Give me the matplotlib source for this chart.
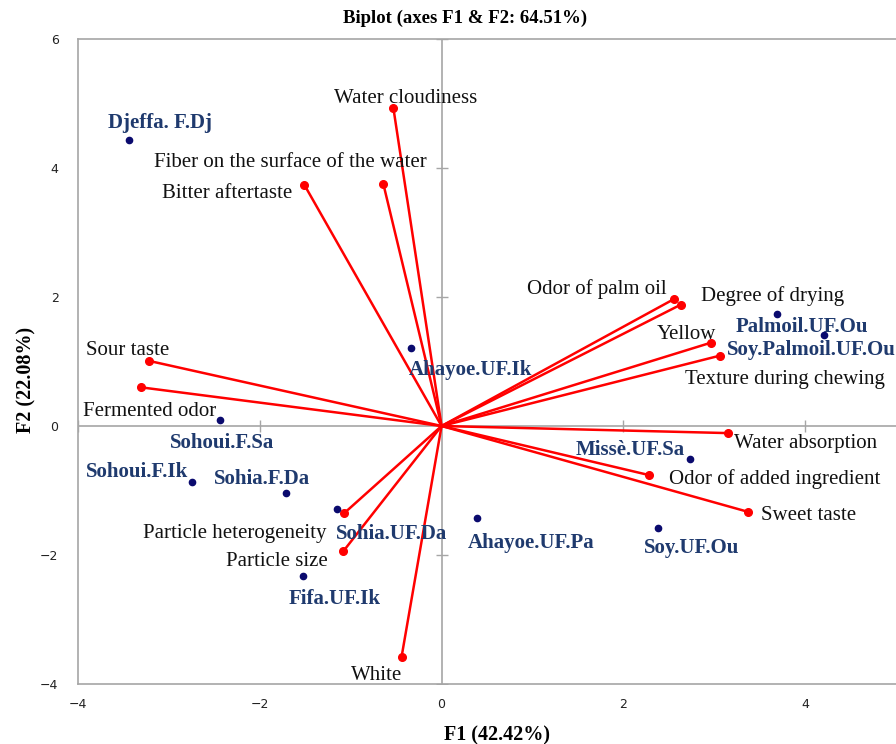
import matplotlib
matplotlib.use("Agg")
import matplotlib.pyplot as plt
import matplotlib.transforms as mtransforms
import numpy as np

# Observations
obs_names = ["Djeffa. F.Dj", "Ahayoe.UF.Ik", "Palmoil.UF.Ou", "Soy.Palmoil.UF.Ou",
             "Sohoui.F.Sa", "Sohoui.F.Ik", "Sohia.F.Da", "Sohia.UF.Da", "Fifa.UF.Ik",
             "Ahayoe.UF.Pa", "Missè.UF.Sa", "Soy.UF.Ou"]
obs_f1 = [-3.44, -0.34, 3.69, 4.21, -2.44, -2.75, -1.71, -1.15, -1.52, 0.39, 2.73, 2.38]
obs_f2 = [4.43, 1.21, 1.74, 1.41, 0.09, -0.87, -1.04, -1.29, -2.33, -1.43, -0.51, -1.58]
obs_lab_x = [-3.10, 0.32, 3.96, 4.07, -2.42, -3.35, -1.98, -0.55, -1.18, 0.98, 2.07, 2.75]
obs_lab_y = [4.73, 0.91, 1.58, 1.21, -0.22, -0.68, -0.78, -1.64, -2.64, -1.77, -0.34, -1.86]

# Variables
var_names = ["Water cloudiness", "Fiber on the surface of the water", "Bitter aftertaste",
             "Odor of palm oil", "Degree of drying", "Yellow", "Texture during chewing",
             "Sour taste", "Fermented odor", "Water absorption", "Odor of added ingredient",
             "Sweet taste", "Particle heterogeneity", "Particle size", "White"]
var_f1 = [-0.53, -0.64, -1.51, 2.56, 2.63, 2.96, 3.06, -3.22, -3.31, 3.15, 2.28, 3.37, -1.07, -1.08, -0.44]
var_f2 = [4.93, 3.75, 3.74, 1.97, 1.88, 1.29, 1.09, 1.01, 0.60, -0.11, -0.76, -1.33, -1.35, -1.94, -3.58]
var_lab_x = [-0.40, -1.66, -2.36, 1.71, 3.64, 2.69, 3.78, -3.45, -3.21, 4.01, 3.67, 4.04, -2.28, -1.81, -0.71]
var_lab_y = [5.12, 4.12, 3.64, 2.16, 2.05, 1.46, 0.76, 1.21, 0.26, -0.23, -0.78, -1.35, -1.63, -2.06, -3.83]

x_ticks = [-4, -2, 0, 2, 4]
y_ticks = [-4, -2, 0, 2, 4, 6]

serif = ["Liberation Serif", "DejaVu Serif"]
navy = "#1F3A6E"
grey = "#A6A6A6"

fig = plt.figure(figsize=(8.96, 7.44), dpi=100)
ax = fig.add_axes([78/896, 1-684/744, 1-78/896, (684-39)/744])
ax.set_xlim(-4, 5)
ax.set_ylim(-4, 6)

ax.axhline(0, color=grey, lw=1.2, zorder=1)
ax.axvline(0, color=grey, lw=1.2, zorder=1)
# small cross ticks on zero lines
ax.plot([t for t in x_ticks if t != 0], [0]*4, ls="none", marker="|", ms=8, color=grey, mew=1.0, zorder=1)
ax.plot([0]*5, [t for t in y_ticks if t != 0], ls="none", marker="_", ms=8, color=grey, mew=1.0, zorder=1)

for x, y in zip(var_f1, var_f2):
    ax.plot([0, x], [0, y], color="#FF0000", lw=1.8, zorder=2)
ax.plot(var_f1, var_f2, ls="none", marker="o", ms=5.5, color="#FF0000", zorder=3)
ax.plot(obs_f1, obs_f2, ls="none", marker="o", ms=4.5, color="#0A0A6E", zorder=4)

tr = mtransforms.offset_copy(ax.transData, fig=fig, x=0, y=-2.5, units="dots")
for n, x, y in zip(var_names, var_lab_x, var_lab_y):
    ax.text(x, y, n, ha="center", va="center", fontsize=15, family=serif, color="#111111",
            transform=tr)
for n, x, y in zip(obs_names, obs_lab_x, obs_lab_y):
    ax.text(x, y, n, ha="center", va="center", fontsize=15, family=serif,
            fontweight="bold", color=navy, clip_on=False, transform=tr)

ax.set_xticks(x_ticks)
ax.set_yticks(y_ticks)
ax.set_xticklabels([f"\u2212{abs(t)}" if t < 0 else str(t) for t in x_ticks])
ax.set_yticklabels([f"\u2212{abs(t)}" if t < 0 else str(t) for t in y_ticks])
ax.tick_params(length=0, labelsize=9, labelcolor="#222222", pad=10)
ax.tick_params(axis="y", pad=14)
for s in ["left", "bottom", "top"]:
    ax.spines[s].set_color(grey)
    ax.spines[s].set_linewidth(1.2)
ax.spines["right"].set_visible(False)

fig.text(465/896, 1-18/744, "Biplot (axes F1 & F2: 64.51%)", ha="center", va="center",
         fontsize=13.5, fontweight="bold", family=serif)
fig.text(497/896, 1-735/744, "F1 (42.42%)", ha="center", va="center",
         fontsize=14.5, fontweight="bold", family=serif)
fig.text(26/896, 1-380/744, "F2 (22.08%)", ha="center", va="center", rotation=90,
         fontsize=14.5, fontweight="bold", family=serif)

fig.savefig("out.png", dpi=100)
